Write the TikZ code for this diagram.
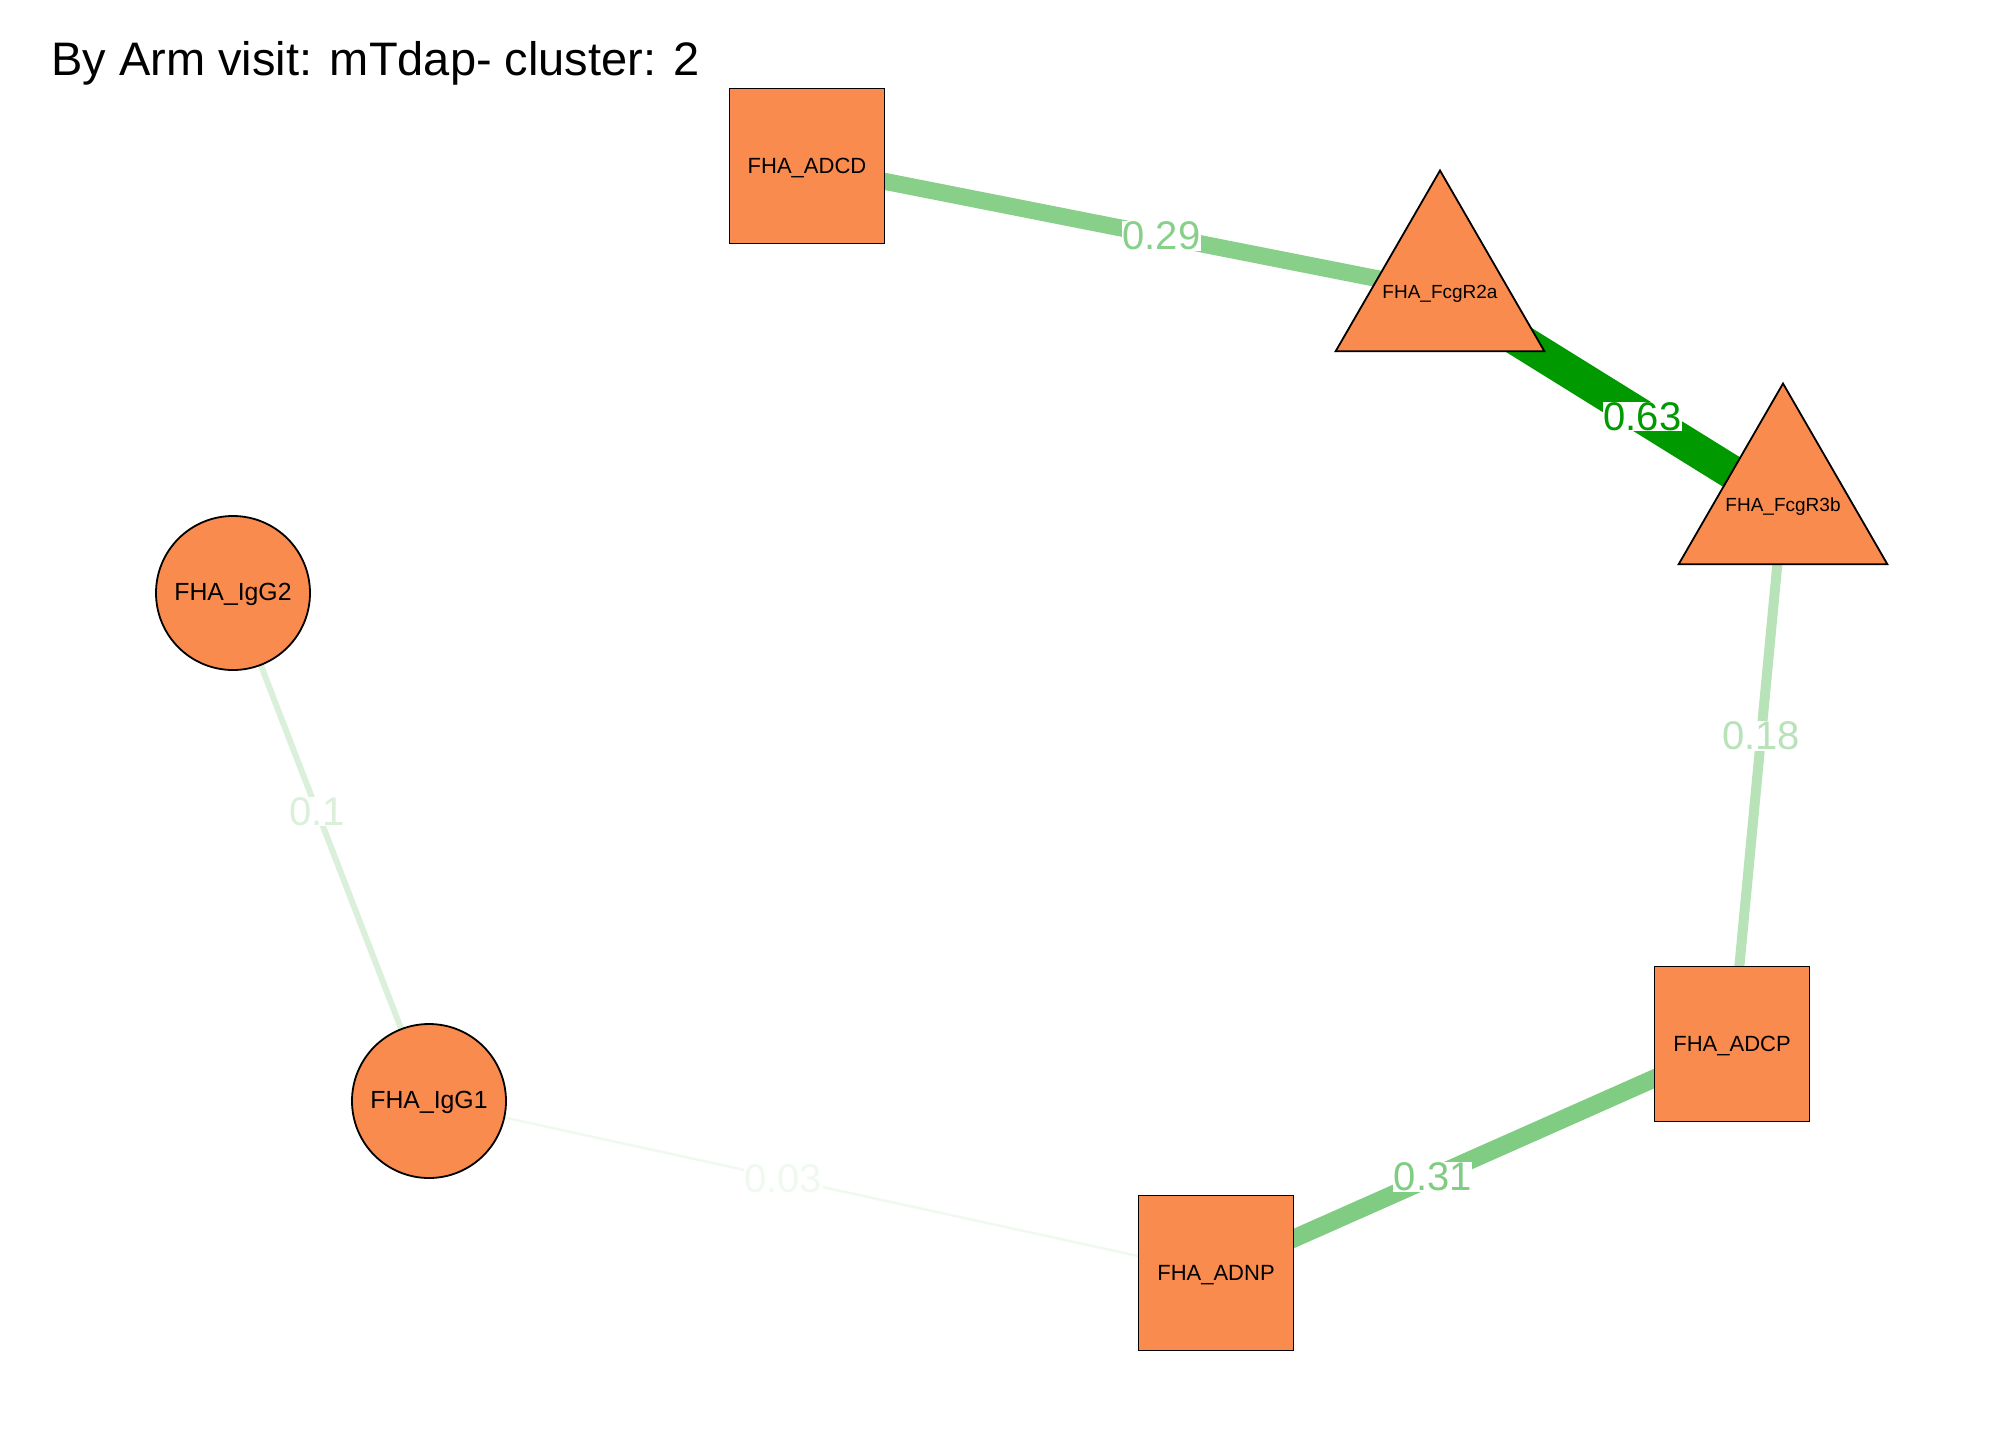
\documentclass[tikz,border=0pt]{standalone}
\usepackage{fontspec}
\setmainfont{Liberation Sans}
\usetikzlibrary{shapes.geometric,backgrounds}
\definecolor{nodefill}{RGB}{250,139,78}
\definecolor{eA}{RGB}{0,153,0}
\definecolor{eB}{RGB}{128,204,130}
\definecolor{eC}{RGB}{136,208,138}
\definecolor{eD}{RGB}{184,226,184}
\definecolor{eE}{RGB}{218,240,218}
\definecolor{eF}{RGB}{240,249,240}
\begin{document}
\begin{tikzpicture}[x=0.5pt,y=-0.5pt,
  nfont/.style={font=\fontsize{11}{13}\selectfont, text height=0.72em, text depth=0pt},
  tfont/.style={font=\fontsize{9.5}{11}\selectfont, text height=0.72em, text depth=0pt},
  cfont/.style={font=\fontsize{12.4}{14}\selectfont, text height=0.72em, text depth=0pt},
  vbox/.style={draw=black, line width=0.9pt, fill=nodefill, nfont, inner sep=0pt},
  sq/.style={vbox, rectangle, minimum width=77.5pt, minimum height=77.5pt},
  circ/.style={vbox, cfont, circle, minimum size=77pt},
  tri/.style={vbox, regular polygon, regular polygon sides=3, minimum size=120.5pt, outer sep=0pt},
  elabel/.style={fill=white, inner sep=0.3pt, font=\fontsize{20}{22}\selectfont},
  edge/.style={line cap=butt}]
\useasboundingbox (0,0) rectangle (2016,1440);
\node[anchor=base west, font=\fontsize{23.5}{26}\selectfont, inner sep=0pt] (title) at (51,75) {By Arm visit: mTdap- cluster: 2};

\node[sq] (adcd) at (807,166) {FHA\_ADCD};
\node[tri, label={[tfont]center:FHA\_FcgR2a}] (fcg2a) at (1440,291) {};
\node[tri, label={[tfont]center:FHA\_FcgR3b}] (fcg3b) at (1783,504) {};
\node[circ] (igg2) at (233,593) {FHA\_IgG2};
\node[circ] (igg1) at (429,1101) {FHA\_IgG1};
\node[sq] (adcp) at (1732,1044) {FHA\_ADCP};
\node[sq] (adnp) at (1216,1273) {FHA\_ADNP};

\begin{pgfonlayer}{background}
\draw[edge, eC, line width=8.5pt] (adcd.center) -- node[pos=0.56, elabel, text=eC] (l1) {0.29} (fcg2a.center);
\draw[edge, eA, line width=17pt] (fcg2a.center) -- node[pos=0.59, elabel, text=eA] (l2) {0.63} (fcg3b.center);
\draw[edge, eD, line width=5pt] (fcg3b.center) -- node[pos=0.43, elabel, text=eD] (l3) {0.18} (adcp.center);
\draw[edge, eB, line width=9pt] (adcp.center) -- node[pos=0.58, elabel, text=eB] (l4) {0.31} (adnp.center);
\draw[edge, eF, line width=1.3pt] (adnp.center) -- node[pos=0.55, elabel, text=eF] (l5) {0.03} (igg1.center);
\draw[edge, eE, line width=3pt] (igg2.center) -- node[pos=0.43, elabel, text=eE] (l6) {0.1} (igg1.center);
\end{pgfonlayer}
\end{tikzpicture}
\end{document}
